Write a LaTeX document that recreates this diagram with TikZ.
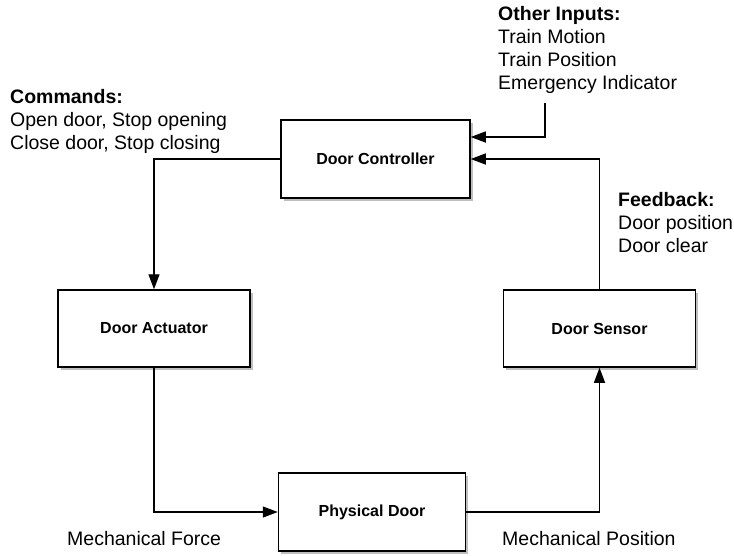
\documentclass[tikz,border=0pt]{standalone}
\usepackage{fontspec}
\setmainfont{Liberation Sans}
\usetikzlibrary{arrows.meta,shadows}
\begin{document}
\begin{tikzpicture}[x=1pt,y=-1pt,
  block/.style={draw=black, line width=1.5pt, fill=white, inner sep=0pt,
    font=\fontsize{16}{19}\selectfont\bfseries,
    drop shadow={opacity=0.25, shadow xshift=2.5pt, shadow yshift=-3pt, fill=black}},
  conn/.style={draw=black, line width=1.4pt, -{Triangle[length=15pt,width=11pt]}},
  txt/.style={inner sep=0pt, align=left, font=\fontsize{19.5}{23}\selectfont}
]
\useasboundingbox[fill=white] (0,0) rectangle (734,555);

\node[block, minimum width=189pt, minimum height=78pt] (ctrl) at (375.5,159) {Door Controller};
\node[block, minimum width=192pt, minimum height=77pt] (act) at (154,328.5) {Door Actuator};
\node[block, minimum width=192pt, minimum height=77pt] (sens) at (599.5,328.5) {Door Sensor};
\node[block, minimum width=187pt, minimum height=78pt] (phys) at (372,512) {Physical Door};

\node[txt, anchor=base west] (oih) at (498,20) {\textbf{Other Inputs:}};
\node[txt, anchor=base west] (oi1) at (498,43) {Train Motion};
\node[txt, anchor=base west] (oi2) at (498,66) {Train Position};
\node[txt, anchor=base west] (oi3) at (498,89) {Emergency Indicator};

\node[txt, anchor=base west] (cmh) at (10,103) {\textbf{Commands:}};
\node[txt, anchor=base west] (cm1) at (10,126) {Open door, Stop opening};
\node[txt, anchor=base west] (cm2) at (10,149) {Close door, Stop closing};

\node[txt, anchor=base west] (fbh) at (618,206) {\textbf{Feedback:}};
\node[txt, anchor=base west] (fb1) at (618,229) {Door position};
\node[txt, anchor=base west] (fb2) at (618,252) {Door clear};

\node[txt, anchor=base west] (mf) at (67,545) {Mechanical Force};
\node[txt, anchor=base west] (mp) at (502,545) {Mechanical Position};

\coordinate (oi) at (545,103);

\draw[conn] (ctrl.west) -| (act.north);
\draw[conn] (act.south) |- (phys.west);
\draw[conn] (phys.east) -| (sens.south);
\draw[conn] (sens.north) |- (ctrl.east);
\draw[conn] (oi) |- ([yshift=22pt]ctrl.east);
\end{tikzpicture}
\end{document}
